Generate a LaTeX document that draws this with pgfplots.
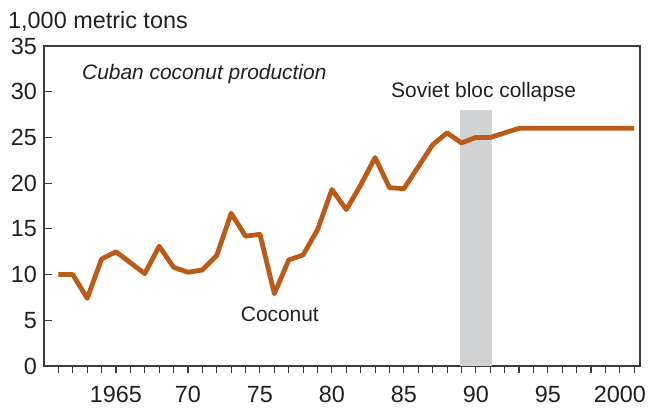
\documentclass[border=0pt]{standalone}
\usepackage{pgfplots}
\pgfplotsset{compat=1.18}
\usepackage{fontspec}
\setmainfont{Liberation Sans}
\definecolor{coco}{RGB}{188,90,24}
\definecolor{band}{RGB}{209,210,212}
\definecolor{txt}{RGB}{35,31,32}
\definecolor{axc}{RGB}{60,60,60}
\begin{document}
\begin{tikzpicture}[x=1bp,y=1bp]
\begin{axis}[
  scale only axis, width=596bp, height=320bp,
  at={(0,0)}, anchor=south west,
  xmin=1960, xmax=2001.4, ymin=0, ymax=35,
  axis line style={draw=axc, line width=1.3bp},
  xtick={1965,1970,...,2000},
  xticklabels={1965,70,75,80,85,90,95,2000},
  minor xtick={1961,...,2001},
  ytick={0,5,...,35},
  xtick align=outside, ytick align=inside,
  xtick pos=bottom, ytick pos=left,
  major tick length=7.5bp, minor tick length=7.5bp,
  tick style={draw=axc, line width=1.1bp},
  every tick label/.append style={font=\fontsize{23.5}{26}\selectfont, text=txt},
  xticklabel style={yshift=-10.5bp, inner ysep=2pt},
  yticklabel style={xshift=-3.5bp},
  /pgf/number format/assume math mode=true,
  /pgf/number format/1000 sep={},
  clip=false,
]
\addplot[fill=band, draw=none] coordinates {(1988.9,0) (1988.9,28) (1991.1,28) (1991.1,0)} -- cycle;
\addplot[color=coco, line width=4.8bp, line join=round] coordinates {
(1961,10) (1962,10) (1963,7.4) (1964,11.7) (1965,12.5) (1966,11.3) (1967,10.1)
(1968,13.1) (1969,10.8) (1970,10.25) (1971,10.5) (1972,12.1) (1973,16.7)
(1974,14.2) (1975,14.4) (1976,7.9) (1977,11.6) (1978,12.15) (1979,14.9)
(1980,19.3) (1981,17.1) (1982,19.8) (1983,22.8) (1984,19.5) (1985,19.4)
(1986,21.8) (1987,24.2) (1988,25.5) (1989,24.4) (1990,25) (1991,25)
(1992,25.5) (1993,26) (1994,26) (1995,26) (1996,26) (1997,26) (1998,26)
(1999,26) (2000,26) (2001,26)};
\end{axis}
\node[anchor=base west, inner sep=0pt, text=txt, font=\fontsize{23.5}{26}\selectfont] at (-36bp,337.7bp) {1,000 metric tons};
\node[anchor=base west, inner sep=0pt, text=txt, font=\fontsize{21}{24}\selectfont\itshape] at (38bp,286bp) {Cuban coconut production};
\node[anchor=base west, inner sep=0pt, text=txt, font=\fontsize{21}{24}\selectfont] at (347bp,268.7bp) {Soviet bloc collapse};
\node[anchor=base west, inner sep=0pt, text=txt, font=\fontsize{21}{24}\selectfont] at (196.7bp,44.3bp) {Coconut};
\pgfresetboundingbox
\path[use as bounding box] (-44bp,-43bp) rectangle (606bp,366bp);
\end{tikzpicture}
\end{document}
